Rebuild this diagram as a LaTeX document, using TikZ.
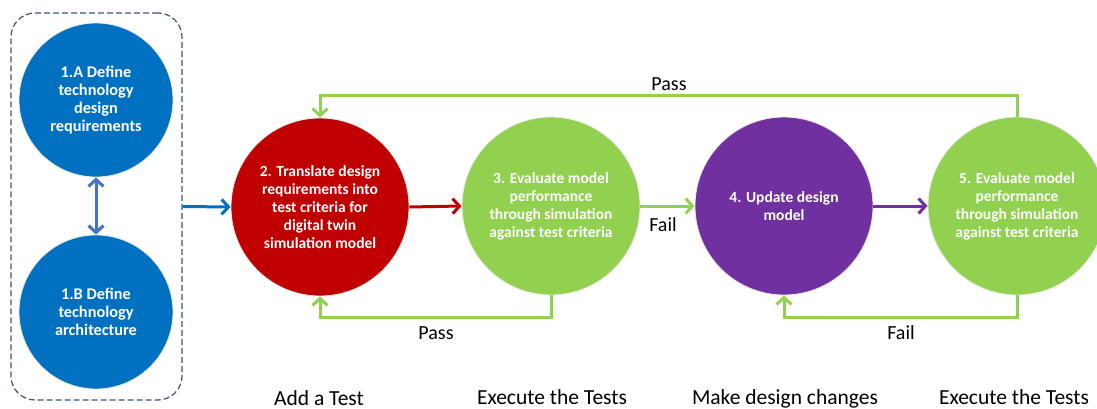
\documentclass[tikz,border=0pt]{standalone}
\usepackage{fontspec}
\setmainfont{Carlito}
\usetikzlibrary{arrows.meta}
\definecolor{cblue}{HTML}{0070C0}
\definecolor{cdbl}{HTML}{4472C4}
\definecolor{cred}{HTML}{C00000}
\definecolor{cgreen}{HTML}{92D050}
\definecolor{cpurple}{HTML}{7030A0}
\definecolor{cbox}{HTML}{44546A}
\begin{document}
\begin{tikzpicture}[x=1pt,y=-1pt,
  bub/.style={circle, inner sep=0pt, draw=white!85!gray, line width=0.8pt, text=white,
    font=\bfseries\fontsize{15.5}{18}\selectfont, align=center},
  smallbub/.style={bub, minimum size=154pt, font=\bfseries\fontsize{16.3}{18}\selectfont},
  bigbub/.style={bub, minimum size=178pt},
  con/.style={line width=3pt, -{Straight Barb[length=7pt,width=15pt]}},
  lbl/.style={font=\fontsize{20}{24}\selectfont, inner sep=0pt},
  phase/.style={font=\fontsize{21.5}{24}\selectfont, inner sep=0pt, anchor=base},
]
\useasboundingbox (0,0) rectangle (1097,409);
\clip (0,0) rectangle (1097,409);

% group box
\node[draw=cbox, dashed, dash pattern=on 6pt off 3pt, line width=1.2pt, rounded corners=24pt,
  minimum width=171pt, minimum height=387pt, inner sep=0pt] (box) at (96.5,206.5) {};

\node[smallbub, fill=cblue] (c1a) at (96,100) {1.A Define\\technology\\design\\requirements};
\node[smallbub, fill=cblue] (c1b) at (96,312) {1.B Define\\technology\\architecture};

\node[bigbub, fill=cred] (c2) at (320,207) {2. Translate design\\requirements into\\test criteria for\\digital twin\\simulation model};
\node[bigbub, fill=cgreen] (c3) at (551,206) {3. Evaluate model\\performance\\through simulation\\against test criteria};
\node[bigbub, fill=cpurple] (c4) at (784,206) {4. Update design\\model};
\node[bigbub, fill=cgreen] (c5) at (1017,206) {5. Evaluate model\\performance\\through simulation\\against test criteria};

% connectors
\draw[con, cdbl, {Straight Barb[length=7pt,width=15pt]}-{Straight Barb[length=7pt,width=15pt]}] (c1a.south) -- (c1b.north);
\draw[con, cblue] (box.east) -- (c2.west);
\draw[con, cred] (c2.east) -- (c3.west);
\draw[con, cgreen] (c3.east) -- (c4.west);
\draw[con, cpurple] (c4.east) -- (c5.west);
\draw[con, cgreen] (c5.north) -- ++(0,-21) -| (c2.north);
\draw[con, cgreen] (c3.south) -- ++(0,22) -| (c2.south);
\draw[con, cgreen] (c5.south) -- ++(0,22) -| (c4.south);

% connector labels
\node[lbl] (lpasstop) at (669,84) {Pass};
\node[lbl] (lfail1) at (663,225) {Fail};
\node[lbl] (lpassbot) at (436,333) {Pass};
\node[lbl] (lfail2) at (901,333) {Fail};

% phase labels
\node[phase] (p1) at (319,405) {Add a Test};
\node[phase] (p2) at (552,404.5) {Execute the Tests};
\node[phase] (p3) at (785,404) {Make design changes};
\node[phase] (p4) at (1014,404) {Execute the Tests};
\end{tikzpicture}
\end{document}
